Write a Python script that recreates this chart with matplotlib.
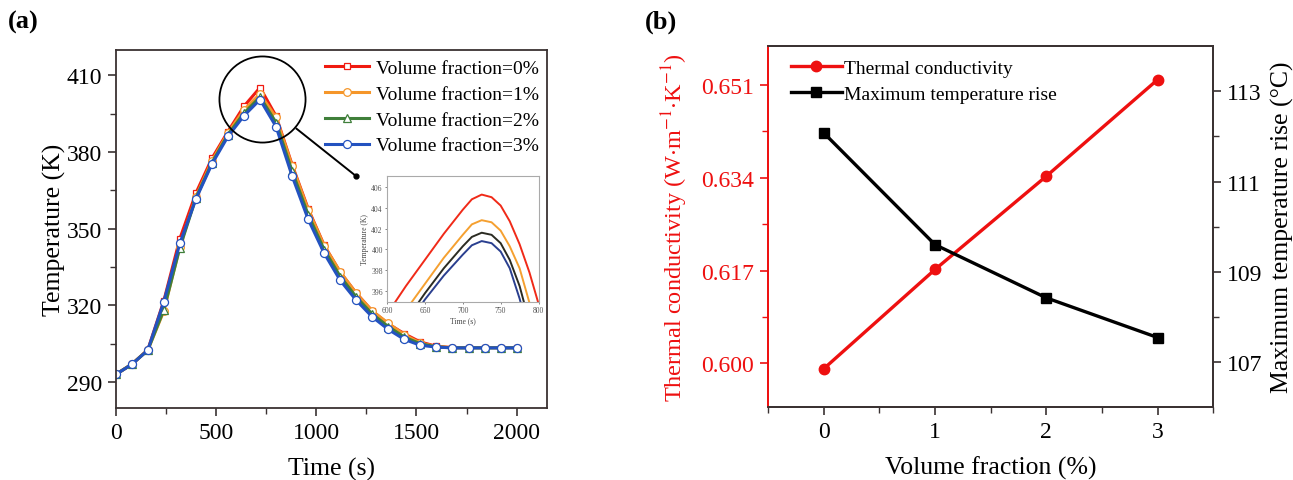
import matplotlib
matplotlib.use('Agg')
import matplotlib.pyplot as plt
from matplotlib.ticker import MultipleLocator, FixedLocator

plt.rcParams['font.family'] = ['Liberation Serif', 'DejaVu Serif']
plt.rcParams['mathtext.fontset'] = 'stix'

# ---- panel (a) data: temperature vs time, markers every 80 s
time_s = [0, 80, 160, 240, 320, 400, 480, 560, 640, 720, 800, 880, 960,
          1040, 1120, 1200, 1280, 1360, 1440, 1520, 1600, 1680, 1760, 1840, 1920, 2000]
temp_0 = [293.0, 297.0, 302.6, 321.8, 346.1, 363.9, 377.5, 388.0, 397.9, 405.2, 394.0, 375.0, 357.8,
          343.5, 333.0, 324.8, 317.8, 312.8, 308.9, 305.7, 304.0, 303.5, 303.5, 303.5, 303.5, 303.5]
temp_1 = [293.0, 297.0, 302.5, 317.8, 343.0, 362.5, 376.5, 387.5, 396.5, 402.7, 393.5, 374.6, 357.4,
          343.3, 333.1, 324.7, 317.8, 313.0, 308.5, 305.3, 303.9, 303.5, 303.5, 303.5, 303.5, 303.5]
temp_2 = [293.0, 297.0, 302.5, 318.3, 342.6, 362.0, 375.8, 386.8, 395.2, 401.5, 391.5, 372.5, 355.5,
          341.8, 331.3, 323.3, 316.6, 311.7, 307.6, 305.0, 303.8, 303.4, 303.4, 303.4, 303.4, 303.4]
temp_3 = [293.0, 296.9, 302.5, 321.5, 344.3, 361.6, 375.3, 386.1, 394.2, 400.5, 389.9, 370.6, 353.7,
          340.4, 329.8, 322.0, 315.5, 310.6, 306.7, 304.4, 303.7, 303.4, 303.4, 303.4, 303.4, 303.4]
labels_a = ['Volume fraction=0%', 'Volume fraction=1%', 'Volume fraction=2%', 'Volume fraction=3%']

# inset (zoom on the peak)
inset_t = [600, 625, 650, 675, 700, 712, 725, 738, 750, 762, 775, 788, 800]
inset_0 = [393.8, 396.5, 399.0, 401.5, 403.8, 404.8, 405.25, 405.0, 404.2, 402.7, 400.5, 397.8, 394.8]
inset_1 = [391.5, 394.2, 396.7, 399.2, 401.4, 402.4, 402.8, 402.6, 401.8, 400.3, 398.2, 394.9, 391.5]
inset_2 = [390.5, 393.2, 395.8, 398.2, 400.3, 401.2, 401.6, 401.4, 400.6, 399.0, 396.5, 393.0, 389.5]
inset_3 = [389.8, 392.5, 395.2, 397.5, 399.5, 400.4, 400.8, 400.6, 399.8, 398.2, 395.3, 391.8, 388.3]

# ---- panel (b) data
vol_frac = [0, 1, 2, 3]
conductivity = [0.599, 0.6172, 0.6343, 0.652]
max_rise = [112.08, 109.6, 108.42, 107.54]

fig = plt.figure(figsize=(12.93, 4.81), dpi=100)
spine_col = '#3a3232'

# ================= (a) =================
ax = fig.add_axes([0.0895, 0.1503, 0.3333, 0.7443])
cols = ['#f01a10', '#f5962a', '#3f7f3a', '#2352c0']
marks = ['s', 'o', '^', 'o']
sizes = [4.8, 5.5, 5.5, 5.8]
for y, c, m, ms, lab in zip([temp_0, temp_1, temp_2, temp_3], cols, marks, sizes, labels_a):
    ax.plot(time_s, y, color=c, lw=2.2, marker=m, ms=ms, mfc='white', mec=c, mew=0.9, label=lab)

ax.set_xlim(0, 2150)
ax.set_ylim(280, 420)
ax.xaxis.set_major_locator(MultipleLocator(500))
ax.xaxis.set_minor_locator(MultipleLocator(250))
ax.yaxis.set_major_locator(FixedLocator([290, 320, 350, 380, 410]))
ax.yaxis.set_minor_locator(FixedLocator([305, 335, 365, 395]))
ax.tick_params(which='both', direction='out', top=False, right=False, colors=spine_col, labelcolor='black')
ax.tick_params(which='major', length=6, width=1.2, labelsize=17, pad=4)
ax.tick_params(which='minor', length=4, width=1.0)
for s in ax.spines.values():
    s.set_color(spine_col)
    s.set_linewidth(1.3)
ax.set_xlabel('Time (s)', fontsize=18.5, labelpad=10)
ax.set_ylabel('Temperature (K)', fontsize=18.5, labelpad=0)
ax.legend(loc='upper right', bbox_to_anchor=(1.005, 1.0), frameon=False, fontsize=14,
          handlelength=2.3, handletextpad=0.35, labelspacing=0.42, borderaxespad=0.1)

# circle around the peak and the pointer to the inset
ax.plot([732], [400.7], marker='o', ms=62, mfc='none', mec='black', mew=1.3, clip_on=False)
ax.plot([902, 1197], [389.1, 370.7], color='black', lw=1.4)
ax.plot([1197], [370.7], marker='o', ms=3.5, color='black')

ins = fig.add_axes([0.2993, 0.3707, 0.1172, 0.2607])
for y, c in zip([inset_0, inset_1, inset_2, inset_3], ['#f02a18', '#f5a030', '#2b2b22', '#2a3f8f']):
    ins.plot(inset_t, y, color=c, lw=1.4)
ins.set_xlim(600, 800)
ins.set_ylim(395, 407)
ins.set_xticks([600, 650, 700, 750, 800])
ins.set_yticks([396, 398, 400, 402, 404, 406])
ins.tick_params(labelsize=5.5, length=1.5, width=0.5, pad=1.5, colors='#555555')
for s in ins.spines.values():
    s.set_color('#aaaaaa')
    s.set_linewidth(0.8)
ins.set_xlabel('Time (s)', fontsize=5.5, labelpad=1.5, color='#444444')
ins.set_ylabel('Temperature (K)', fontsize=5.5, labelpad=1.5, color='#444444')

fig.text(0.006, 0.953, '(a)', fontsize=19, fontweight='bold', va='center')

# ================= (b) =================
bx = fig.add_axes([0.594, 0.1518, 0.3444, 0.7499])
red = '#ee1010'
l1, = bx.plot(vol_frac, conductivity, color=red, lw=2.4, marker='o', ms=7.5, label='Thermal conductivity')
bx.set_xlim(-0.5, 3.5)
bx.set_ylim(0.592, 0.6581)
bx.xaxis.set_major_locator(MultipleLocator(1))
bx.xaxis.set_minor_locator(MultipleLocator(0.5))
bx.yaxis.set_major_locator(FixedLocator([0.600, 0.617, 0.634, 0.651]))
bx.yaxis.set_minor_locator(FixedLocator([0.6085, 0.6255, 0.6425]))
bx.set_yticklabels(['0.600', '0.617', '0.634', '0.651'])
bx.tick_params(axis='x', which='both', direction='out', top=False, colors=spine_col, labelcolor='black')
bx.tick_params(axis='y', which='both', direction='out', colors=red, labelcolor=red)
bx.tick_params(which='major', length=6, width=1.2, labelsize=17, pad=4)
bx.tick_params(which='minor', length=4, width=1.0)
for k, s in bx.spines.items():
    s.set_color(spine_col)
    s.set_linewidth(1.3)
bx.spines['left'].set_color(red)
bx.set_xlabel('Volume fraction (%)', fontsize=18.5, labelpad=10)
bx.set_ylabel('Thermal conductivity (W$\\cdot$m$^{-1}$$\\cdot$K$^{-1}$)', fontsize=17.5, color=red, labelpad=8)

bx2 = bx.twinx()
l2, = bx2.plot(vol_frac, max_rise, color='black', lw=2.4, marker='s', ms=6.5, label='Maximum temperature rise')
bx2.set_ylim(106, 114)
bx2.yaxis.set_major_locator(FixedLocator([107, 109, 111, 113]))
bx2.yaxis.set_minor_locator(FixedLocator([108, 110, 112]))
bx2.tick_params(which='both', direction='out', colors=spine_col, labelcolor='black')
bx2.tick_params(which='major', length=6, width=1.2, labelsize=17, pad=4)
bx2.tick_params(which='minor', length=4, width=1.0)
for k, s in bx2.spines.items():
    s.set_color(spine_col)
    s.set_linewidth(1.3)
bx2.spines['left'].set_color(red)
bx2.set_ylabel('Maximum temperature rise (°C)', fontsize=18.5, labelpad=6)

bx.legend([l1, l2], ['Thermal conductivity', 'Maximum temperature rise'], loc='upper left',
          bbox_to_anchor=(0.03, 0.99), frameon=False, fontsize=14,
          handlelength=2.6, handletextpad=0.1, labelspacing=0.4, borderaxespad=0.1)

fig.text(0.4985, 0.953, '(b)', fontsize=19, fontweight='bold', va='center')

fig.savefig('out.png', dpi=100)
